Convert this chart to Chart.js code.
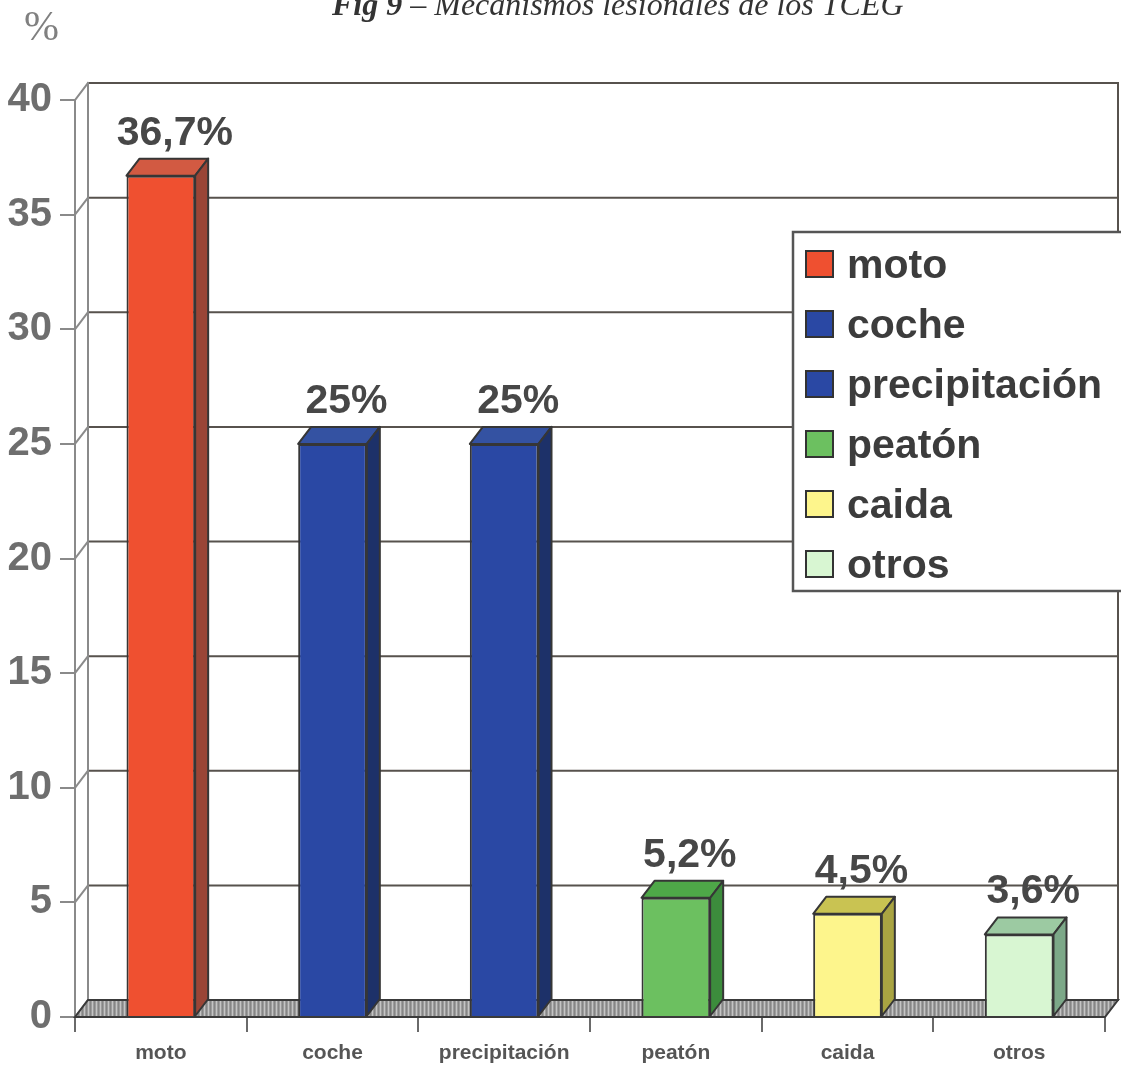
<!DOCTYPE html>
<html>
<head>
<meta charset="utf-8">
<script src="https://cdn.jsdelivr.net/npm/chart.js@4"></script>
<style>
  body { margin: 0; background: #fff; }
  canvas { display: block; }
</style>
</head>
<body>
<canvas id="lesiones" width="1121" height="1066"></canvas>
<script>
/* datos */

const categories = ['moto', 'coche', 'precipitación', 'peatón', 'caida', 'otros'];
const percentages = [36.7, 25, 25, 5.2, 4.5, 3.6];
const yTickValues = [0, 5, 10, 15, 20, 25, 30, 35, 40];

/* colores de cada barra: frente, tapa, lateral */
const barFront = ['#ef5030', '#2a48a4', '#2a48a4', '#6cc060', '#fdf58c', '#d8f6d2'];
const barTop   = ['#d25a42', '#3452a2', '#3452a2', '#4ea848', '#c9c352', '#9ccaa2'];
const barSide  = ['#9a4536', '#1d3169', '#1d3169', '#3c8c3c', '#a9a442', '#7ca888'];

const DX = 13;
const DY = 17;
const FONT = '"Liberation Sans", Arial, sans-serif';
const SERIF = '"Liberation Serif", "Times New Roman", serif';

function fmtValue(v)
{
    return String(v).replace('.', ',') + '%';
}

function floorPattern(ctx)
{
    const c = document.createElement('canvas');
    c.width = 4; c.height = 4;
    const p = c.getContext('2d');
    p.fillStyle = '#9c9c9c';
    p.fillRect(0, 0, 4, 4);
    p.fillStyle = '#c4c4c4';
    p.fillRect(0, 0, 1, 4);
    p.fillStyle = '#858585';
    p.fillRect(2, 0, 1, 4);
    return ctx.createPattern(c, 'repeat');
}

/* pared del fondo, rejilla y suelo */
const wallPlugin = {
    id: 'wall',
    beforeDatasetsDraw(chart)
    {
        const { ctx, chartArea: a, scales: { y } } = chart;
        ctx.save();
        ctx.lineCap = 'square';

        yTickValues.forEach(v => {
            const py = y.getPixelForValue(v);
            ctx.strokeStyle = '#8a8a8a';
            ctx.lineWidth = 2;
            ctx.beginPath();
            ctx.moveTo(a.left, py);
            ctx.lineTo(a.left + DX, py - DY);
            ctx.stroke();
            if (v > 0) {
                ctx.strokeStyle = '#57524d';
                ctx.beginPath();
                ctx.moveTo(a.left + DX, py - DY);
                ctx.lineTo(a.right + DX, py - DY);
                ctx.stroke();
            }
        });

        ctx.strokeStyle = '#8a8a8a';
        ctx.lineWidth = 2;
        ctx.beginPath();
        ctx.moveTo(a.left + DX, a.top - DY);
        ctx.lineTo(a.left + DX, a.bottom - DY);
        ctx.stroke();
        ctx.strokeStyle = '#57524d';
        ctx.beginPath();
        ctx.moveTo(a.right + DX, a.top - DY);
        ctx.lineTo(a.right + DX, a.bottom - DY);
        ctx.stroke();

        // suelo
        ctx.beginPath();
        ctx.moveTo(a.left, a.bottom);
        ctx.lineTo(a.left + DX, a.bottom - DY);
        ctx.lineTo(a.right + DX, a.bottom - DY);
        ctx.lineTo(a.right, a.bottom);
        ctx.closePath();
        ctx.fillStyle = floorPattern(ctx);
        ctx.fill();
        ctx.strokeStyle = '#3a3a3a';
        ctx.lineWidth = 2;
        ctx.stroke();
        ctx.restore();
    },

    /* tapa y lateral de cada barra, y su etiqueta */
    afterDatasetsDraw(chart)
    {
        const { ctx } = chart;
        const meta = chart.getDatasetMeta(0);
        ctx.save();
        ctx.lineWidth = 2;
        ctx.lineJoin = 'round';
        ctx.strokeStyle = '#363636';
        meta.data.forEach((bar, i) => {
            const x1 = bar.x - bar.width / 2;
            const x2 = bar.x + bar.width / 2;
            const yt = bar.y;
            const yb = bar.base;

            ctx.beginPath();
            ctx.moveTo(x1, yt);
            ctx.lineTo(x1 + DX, yt - DY);
            ctx.lineTo(x2 + DX, yt - DY);
            ctx.lineTo(x2, yt);
            ctx.closePath();
            ctx.fillStyle = barTop[i];
            ctx.fill();
            ctx.stroke();

            ctx.beginPath();
            ctx.moveTo(x2, yt);
            ctx.lineTo(x2 + DX, yt - DY);
            ctx.lineTo(x2 + DX, yb - DY);
            ctx.lineTo(x2, yb);
            ctx.closePath();
            ctx.fillStyle = barSide[i];
            ctx.fill();
            ctx.stroke();

            ctx.fillStyle = '#474747';
            ctx.font = 'bold 41px ' + FONT;
            ctx.textAlign = 'center';
            ctx.textBaseline = 'alphabetic';
            ctx.fillText(fmtValue(percentages[i]), bar.x + 14, yt - DY - 14);
        });
        ctx.restore();
    },

    /* leyenda, titulo y unidad */
    afterDraw(chart)
    {
        const { ctx } = chart;
        ctx.save();

        ctx.fillStyle = '#ffffff';
        ctx.fillRect(793, 232, 340, 359);
        ctx.strokeStyle = '#555';
        ctx.lineWidth = 2.5;
        ctx.strokeRect(793, 232, 340, 359);

        ctx.font = 'bold 41px ' + FONT;
        ctx.textAlign = 'left';
        ctx.textBaseline = 'alphabetic';
        categories.forEach((c, i) => {
            const top = 251 + i * 60;
            ctx.fillStyle = barFront[i];
            ctx.fillRect(806, top, 27, 26);
            ctx.strokeStyle = '#333';
            ctx.lineWidth = 2;
            ctx.strokeRect(806, top, 27, 26);
            ctx.fillStyle = '#3c3c3c';
            ctx.fillText(c, 847, top + 27);
        });

        ctx.fillStyle = '#333';
        ctx.font = 'bold italic 32px ' + SERIF;
        const fig = 'Fig 9';
        ctx.fillText(fig, 332, 15);
        const w = ctx.measureText(fig).width;
        ctx.font = 'italic 32px ' + SERIF;
        ctx.fillText(' \u2013 Mecanismos lesionales de los TCEG', 332 + w, 15);

        ctx.fillStyle = '#808080';
        ctx.font = '42px ' + SERIF;
        ctx.fillText('%', 24, 40);
        ctx.restore();
    }
};

new Chart(
    document.getElementById('lesiones'),
    {
        type: 'bar',
        data: {
            labels: categories,
            datasets: [
                {
                    data: percentages,
                    backgroundColor: barFront,
                    borderColor: '#363636',
                    borderWidth: 2,
                    barPercentage: 0.4,
                    categoryPercentage: 1
                }
            ]
        },
        options: {
            responsive: false,
            animation: false,
            layout: {
                padding: { top: 100, right: 16, left: 0, bottom: 0 }
            },
            plugins: {
                legend: { display: false },
                tooltip: { enabled: false }
            },
            scales: {
                y: {
                    min: 0,
                    max: 40,
                    ticks: {
                        stepSize: 5,
                        padding: 8,
                        color: '#6e6e6e',
                        font: { family: FONT, size: 40, weight: 'bold' }
                    },
                    grid: {
                        drawOnChartArea: false,
                        tickLength: 15,
                        color: '#8a8a8a',
                        lineWidth: 2
                    },
                    border: { color: '#8a8a8a', width: 2 },
                    afterFit(scale) { scale.width = 75; }
                },
                x: {
                    ticks: {
                        padding: 9,
                        color: '#555',
                        font: { family: FONT, size: 21, weight: 'bold' }
                    },
                    grid: {
                        offset: true,
                        drawOnChartArea: false,
                        tickLength: 15,
                        color: '#6a6a6a',
                        lineWidth: 2
                    },
                    border: { color: '#8a8a8a', width: 2 },
                    afterFit(scale) { scale.height = 49; }
                }
            }
        },
        plugins: [wallPlugin]
    }
);
</script>
</body>
</html>
